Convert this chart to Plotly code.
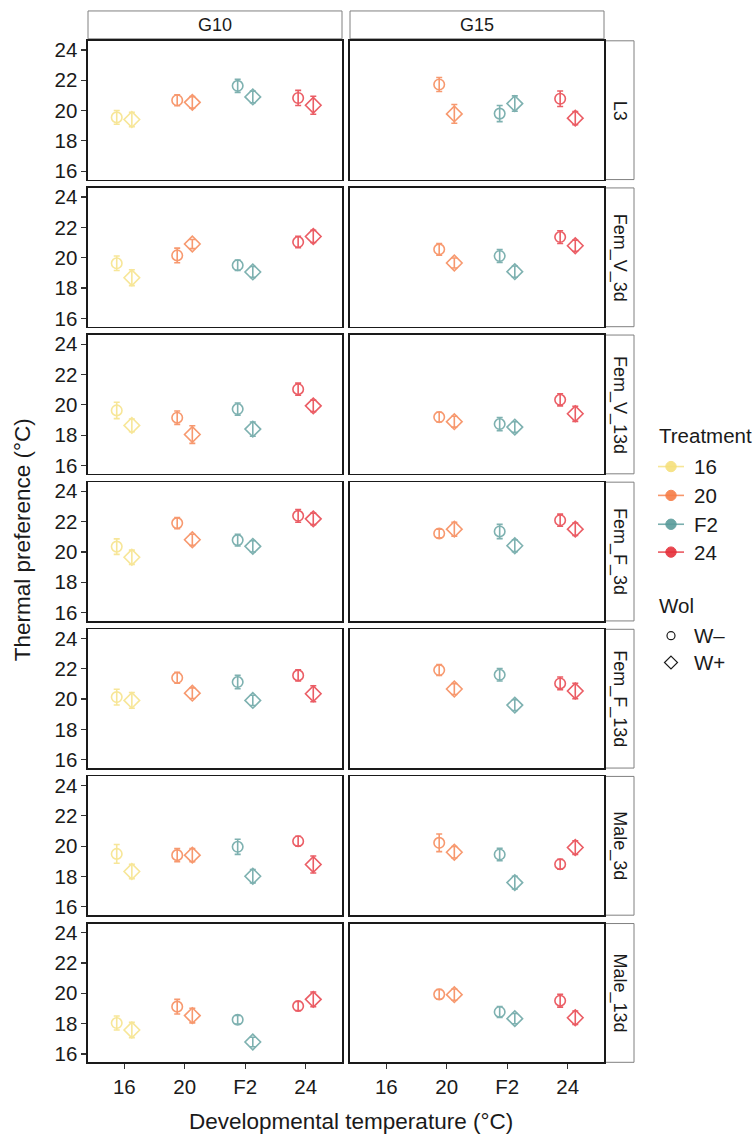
import plotly.graph_objects as go

W, H = 754, 1142
FONT = "Liberation Sans, Arial, sans-serif"

# ---------------- data ----------------
columns = ["G10", "G15"]
rows = ["L3", "Fem_V_3d", "Fem_V_13d", "Fem_F_3d", "Fem_F_13d", "Male_3d", "Male_13d"]
categories = ["16", "20", "F2", "24"]
wol_levels = ["W–", "W+"]
treat_colors = ["#F6E07C", "#F67D47", "#5A9C9B", "#E6303A"]

# means / standard errors per row, in category order 16, 20, F2, 24
G10_Wm_mean = [
    [19.55, 20.68, 21.63, 20.83],
    [19.63, 20.15, 19.50, 21.03],
    [19.63, 19.15, 19.72, 21.03],
    [20.35, 21.90, 20.78, 22.38],
    [20.13, 21.40, 21.12, 21.56],
    [19.49, 19.41, 19.96, 20.33],
    [18.04, 19.12, 18.26, 19.16],
]
G10_Wm_se = [
    [0.45, 0.36, 0.43, 0.50],
    [0.48, 0.48, 0.34, 0.38],
    [0.54, 0.44, 0.40, 0.40],
    [0.51, 0.37, 0.39, 0.42],
    [0.52, 0.36, 0.44, 0.37],
    [0.62, 0.43, 0.50, 0.32],
    [0.46, 0.48, 0.28, 0.30],
]
G10_Wp_mean = [
    [19.41, 20.54, 20.90, 20.35],
    [18.68, 20.90, 19.06, 21.40],
    [18.64, 18.04, 18.40, 19.93],
    [19.65, 20.80, 20.37, 22.18],
    [19.91, 20.39, 19.91, 20.35],
    [18.33, 19.41, 18.02, 18.79],
    [17.58, 18.53, 16.79, 19.60],
]
G10_Wp_se = [
    [0.48, 0.38, 0.38, 0.59],
    [0.52, 0.30, 0.36, 0.40],
    [0.42, 0.58, 0.47, 0.38],
    [0.47, 0.37, 0.37, 0.38],
    [0.52, 0.35, 0.34, 0.53],
    [0.47, 0.43, 0.44, 0.56],
    [0.50, 0.48, 0.31, 0.49],
]
G15_Wm_mean = [
    [None, 21.72, 19.80, 20.78],
    [None, 20.55, 20.11, 21.36],
    [None, 19.19, 18.73, 20.33],
    [None, 21.22, 21.35, 22.09],
    [None, 21.91, 21.60, 21.03],
    [None, 20.22, 19.45, 18.81],
    [None, 19.93, 18.77, 19.51],
]
G15_Wm_se = [
    [None, 0.46, 0.53, 0.51],
    [None, 0.38, 0.42, 0.42],
    [None, 0.32, 0.43, 0.40],
    [None, 0.28, 0.47, 0.40],
    [None, 0.36, 0.41, 0.42],
    [None, 0.58, 0.41, 0.32],
    [None, 0.32, 0.36, 0.42],
]
G15_Wp_mean = [
    [None, 19.78, 20.46, 19.50],
    [None, 19.65, 19.08, 20.79],
    [None, 18.89, 18.53, 19.41],
    [None, 21.50, 20.41, 21.50],
    [None, 20.66, 19.60, 20.53],
    [None, 19.60, 17.60, 19.91],
    [None, 19.91, 18.33, 18.39],
]
G15_Wp_se = [
    [None, 0.62, 0.51, 0.43],
    [None, 0.33, 0.37, 0.37],
    [None, 0.36, 0.35, 0.50],
    [None, 0.46, 0.39, 0.41],
    [None, 0.36, 0.35, 0.51],
    [None, 0.38, 0.42, 0.45],
    [None, 0.37, 0.34, 0.44],
]
y_ticks = [16, 18, 20, 22, 24]

data = {
    ("G10", "W–"): (G10_Wm_mean, G10_Wm_se),
    ("G10", "W+"): (G10_Wp_mean, G10_Wp_se),
    ("G15", "W–"): (G15_Wm_mean, G15_Wm_se),
    ("G15", "W+"): (G15_Wp_mean, G15_Wp_se),
}

# ---------------- geometry (pixels) ----------------
col_x = [(88, 342), (350, 604)]
row_top0, row_h, row_pitch = 38, 139.5, 147.9
dodge = {"W–": -0.125, "W+": 0.125}
symbols = {"W–": "circle-open", "W+": "diamond-open"}
sizes = {"W–": 10.5, "W+": 12}
TICK_SIZE = 20.5


def px(x):
    return x / W


def py(y):
    return 1 - y / H


fig = go.Figure()
layout = {}
for r, rname in enumerate(rows):
    top = row_top0 + r * row_pitch
    bot = top + row_h
    for c, cname in enumerate(columns):
        n = r * 2 + c + 1
        xa = "x" if n == 1 else f"x{n}"
        ya = "y" if n == 1 else f"y{n}"
        bottom_row = r == len(rows) - 1
        layout["xaxis" if n == 1 else f"xaxis{n}"] = dict(
            domain=[px(col_x[c][0]), px(col_x[c][1])],
            anchor=ya, range=[-0.6, 3.6],
            tickvals=list(range(len(categories))), ticktext=categories,
            showticklabels=bottom_row, ticks="outside" if bottom_row else "",
            ticklen=5, tickwidth=1.2, tickcolor="#333",
            tickfont=dict(family=FONT, size=TICK_SIZE, color="#1a1a1a"),
            showline=True, mirror=True, linecolor="#1a1a1a", linewidth=1.6,
            showgrid=False, zeroline=False, fixedrange=True,
        )
        layout["yaxis" if n == 1 else f"yaxis{n}"] = dict(
            domain=[py(bot), py(top)], anchor=xa, range=[15.45, 24.6],
            tickvals=y_ticks, showticklabels=(c == 0),
            ticks="outside" if c == 0 else "", ticklen=5, tickwidth=1.2,
            tickcolor="#333",
            tickfont=dict(family=FONT, size=TICK_SIZE, color="#1a1a1a"),
            showline=True, mirror=True, linecolor="#1a1a1a", linewidth=1.6,
            showgrid=False, zeroline=False, fixedrange=True,
        )
        for wol in wol_levels:
            means, ses = data[(cname, wol)]
            for k, cat in enumerate(categories):
                m = means[r][k]
                s = ses[r][k]
                if m is None:
                    continue
                fig.add_trace(go.Scatter(
                    x=[k + dodge[wol]], y=[m], xaxis=xa, yaxis=ya,
                    mode="markers", showlegend=False, opacity=0.78,
                    marker=dict(symbol=symbols[wol], size=sizes[wol],
                                color=treat_colors[k],
                                line=dict(width=1.6, color=treat_colors[k])),
                    error_y=dict(type="data", array=[s], visible=True,
                                 color=treat_colors[k], thickness=1.6, width=3),
                    hoverinfo="skip",
                ))

shapes = []
annotations = []
strip_line = dict(color="#808080", width=1)
# top strips
for c, cname in enumerate(columns):
    shapes.append(dict(type="rect", xref="paper", yref="paper",
                       x0=px(col_x[c][0]), x1=px(col_x[c][1]),
                       y0=py(36), y1=py(8), line=strip_line, fillcolor="white",
                       layer="below"))
    annotations.append(dict(text=cname, xref="paper", yref="paper",
                            x=px((col_x[c][0] + col_x[c][1]) / 2), y=py(22),
                            showarrow=False, xanchor="center", yanchor="middle",
                            font=dict(family=FONT, size=18, color="#1a1a1a")))
# right strips
for r, rname in enumerate(rows):
    top = row_top0 + r * row_pitch
    bot = top + row_h
    shapes.append(dict(type="rect", xref="paper", yref="paper",
                       x0=px(605), x1=px(634), y0=py(bot), y1=py(top),
                       line=strip_line, fillcolor="white", layer="below"))
    annotations.append(dict(text=rname, xref="paper", yref="paper",
                            x=px(619.5), y=py((top + bot) / 2), textangle=90,
                            showarrow=False, xanchor="center", yanchor="middle",
                            font=dict(family=FONT, size=18, color="#1a1a1a")))

# axis titles
annotations.append(dict(text="Thermal preference (°C)", xref="paper", yref="paper",
                        x=px(22), y=py(540), textangle=-90, showarrow=False,
                        xanchor="center", yanchor="middle",
                        font=dict(family=FONT, size=22.5, color="#1a1a1a")))
annotations.append(dict(text="Developmental temperature (°C)", xref="paper",
                        yref="paper", x=px(351), y=py(1124), showarrow=False,
                        xanchor="center", yanchor="middle",
                        font=dict(family=FONT, size=22.5, color="#1a1a1a")))

# legend (drawn manually)
annotations.append(dict(text="Treatment", xref="paper", yref="paper",
                        x=px(657), y=py(435), showarrow=False, xanchor="left",
                        yanchor="middle",
                        font=dict(family=FONT, size=20.5, color="#1a1a1a")))
leg_y = [466, 495, 524, 552]
for k, cat in enumerate(categories):
    yc = leg_y[k]
    shapes.append(dict(type="line", xref="paper", yref="paper",
                       x0=px(658), x1=px(684), y0=py(yc), y1=py(yc),
                       line=dict(color=treat_colors[k], width=1.6), opacity=0.8))
    shapes.append(dict(type="circle", xref="paper", yref="paper",
                       x0=px(671 - 5.2), x1=px(671 + 5.2),
                       y0=py(yc + 5.2), y1=py(yc - 5.2),
                       line=dict(color=treat_colors[k], width=1),
                       fillcolor=treat_colors[k], opacity=0.9))
    annotations.append(dict(text=cat, xref="paper", yref="paper", x=px(692),
                            y=py(yc), showarrow=False, xanchor="left",
                            yanchor="middle",
                            font=dict(family=FONT, size=TICK_SIZE, color="#1a1a1a")))

annotations.append(dict(text="Wol", xref="paper", yref="paper",
                        x=px(657), y=py(606), showarrow=False, xanchor="left",
                        yanchor="middle",
                        font=dict(family=FONT, size=20.5, color="#1a1a1a")))
wol_y = [636, 663]
shapes.append(dict(type="circle", xref="paper", yref="paper",
                   x0=px(671 - 4), x1=px(671 + 4), y0=py(wol_y[0] + 4),
                   y1=py(wol_y[0] - 4), line=dict(color="#1a1a1a", width=1.2)))
d = 6.5
yd = wol_y[1]
shapes.append(dict(type="path", xref="paper", yref="paper",
                   path=(f"M {px(671)} {py(yd - d)} L {px(671 + d)} {py(yd)} "
                         f"L {px(671)} {py(yd + d)} L {px(671 - d)} {py(yd)} Z"),
                   line=dict(color="#1a1a1a", width=1.2)))
for j, wol in enumerate(wol_levels):
    annotations.append(dict(text=wol, xref="paper", yref="paper", x=px(692),
                            y=py(wol_y[j]), showarrow=False, xanchor="left",
                            yanchor="middle",
                            font=dict(family=FONT, size=TICK_SIZE, color="#1a1a1a")))

fig.update_layout(
    **layout,
    width=W, height=H, margin=dict(l=0, r=0, t=0, b=0),
    paper_bgcolor="white", plot_bgcolor="rgba(0,0,0,0)",
    shapes=shapes, annotations=annotations, showlegend=False,
)
fig.write_html(
    "out.html",
    config={"displayModeBar": False, "staticPlot": True},
    post_script="document.body.style.margin='0px';document.body.style.overflow='hidden';",
)
